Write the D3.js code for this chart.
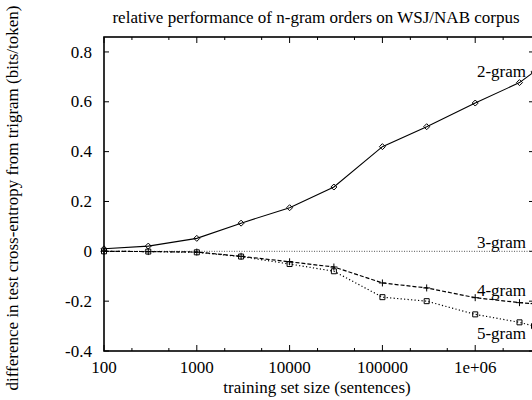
<!DOCTYPE html>
<html>
<head>
<meta charset="utf-8">
<script src="https://cdn.jsdelivr.net/npm/d3@7"></script>
<style>
  body { margin: 0; background: #fff; }
</style>
</head>
<body>
<div id="chart"></div>
<script>
// training set sizes (sentences)
const sizes = [100, 300, 1000, 3000, 10000, 30000, 100000, 300000, 1000000, 3000000, 4300000]

// difference in cross-entropy from trigram (bits/token)
const bigram = [0.01, 0.021, 0.052, 0.113, 0.175, 0.258, 0.42, 0.5, 0.595, 0.677, 0.72]
const trigram = [0, 0, 0, 0, 0, 0, 0, 0, 0, 0, 0]
const fourgram = [0, -0.001, -0.003, -0.02, -0.042, -0.063, -0.127, -0.147, -0.186, -0.206, -0.21]
const fivegram = [0, -0.001, -0.004, -0.021, -0.051, -0.08, -0.184, -0.2, -0.253, -0.285, -0.3]

const seriesNames = ['2-gram', '3-gram', '4-gram', '5-gram']

const xTicks = [100, 1000, 10000, 100000, 1000000]
const xTickLabels = ['100', '1000', '10000', '100000', '1e+06']
const yTicks = [-0.4, -0.2, 0, 0.2, 0.4, 0.6, 0.8]
const yTickLabels = ['-0.4', '-0.2', '0', '0.2', '0.4', '0.6', '0.8']

const margin = { top: 37, right: -2, bottom: 49, left: 104 }
const W = 532
const H = 400
const width = W - margin.left - margin.right
const height = H - margin.top - margin.bottom

const font = 'Liberation Serif'
const fs = 17

const svg = d3.select('#chart')
  .append('svg')
  .attr('width', W)
  .attr('height', H)

const g = svg.append('g')
  .attr('transform', `translate(${margin.left},${margin.top})`)

const x = d3.scaleLog()
  .domain([100, 4300000])
  .range([0, width])

const y = d3.scaleLinear()
  .domain([-0.4, 0.86])
  .range([height, 0])

// minor ticks at 2x and 5x each decade
const minorTicks = []
for (let e = 2; e <= 6; e++) {
  [2, 5].forEach(m => {
    const v = m * Math.pow(10, e)
    if (v < 4300000) minorTicks.push(v)
  })
}

// x axis ticks, bottom and top
const tickG = g.append('g').attr('stroke', '#000').attr('stroke-width', 1)
xTicks.forEach(t => {
  tickG.append('line').attr('x1', x(t)).attr('x2', x(t)).attr('y1', height).attr('y2', height - 6)
  tickG.append('line').attr('x1', x(t)).attr('x2', x(t)).attr('y1', 0).attr('y2', 6)
})
minorTicks.forEach(t => {
  tickG.append('line').attr('x1', x(t)).attr('x2', x(t)).attr('y1', height).attr('y2', height - 3)
  tickG.append('line').attr('x1', x(t)).attr('x2', x(t)).attr('y1', 0).attr('y2', 3)
})
yTicks.forEach(t => {
  tickG.append('line').attr('x1', 0).attr('x2', 5).attr('y1', y(t)).attr('y2', y(t))
  tickG.append('line').attr('x1', width).attr('x2', width - 5).attr('y1', y(t)).attr('y2', y(t))
})

g.append('g')
  .selectAll('text')
  .data(xTicks)
  .enter()
  .append('text')
  .attr('x', d => x(d))
  .attr('y', height + 22)
  .attr('text-anchor', 'middle')
  .attr('font-family', font)
  .attr('font-size', fs)
  .text((d, i) => xTickLabels[i])

g.append('g')
  .selectAll('text')
  .data(yTicks)
  .enter()
  .append('text')
  .attr('x', -12)
  .attr('y', d => y(d))
  .attr('dy', '0.33em')
  .attr('text-anchor', 'end')
  .attr('font-family', font)
  .attr('font-size', fs)
  .text((d, i) => yTickLabels[i])

// series
const lineFor = vals => d3.line()
  .x((d, i) => x(sizes[i]))
  .y(d => y(d))(vals)

const plot = g.append('g')

plot.append('path')
  .attr('d', lineFor(trigram))
  .attr('fill', 'none')
  .attr('stroke', '#555')
  .attr('stroke-width', 1)
  .attr('stroke-dasharray', '1,1.5')

plot.append('path')
  .attr('d', lineFor(fivegram))
  .attr('fill', 'none')
  .attr('stroke', '#000')
  .attr('stroke-width', 1.2)
  .attr('stroke-dasharray', '1.2,2.3')

plot.append('path')
  .attr('d', lineFor(fourgram))
  .attr('fill', 'none')
  .attr('stroke', '#000')
  .attr('stroke-width', 1.2)
  .attr('stroke-dasharray', '4,2')

plot.append('path')
  .attr('d', lineFor(bigram))
  .attr('fill', 'none')
  .attr('stroke', '#000')
  .attr('stroke-width', 1.1)

const diamond = 'M0,-3L3,0L0,3L-3,0Z'
const square = 'M-2.5,-2.5H2.5V2.5H-2.5Z'
const plus = 'M-3.5,0H3.5M0,-3.5V3.5'

const markers = (vals, shape) => plot.append('g')
  .selectAll('path')
  .data(vals)
  .enter()
  .append('path')
  .attr('transform', (d, i) => `translate(${x(sizes[i])},${y(d)})`)
  .attr('d', shape)
  .attr('fill', 'none')
  .attr('stroke', '#000')
  .attr('stroke-width', 1)

markers(bigram, diamond)
markers(fourgram, plus)
markers(fivegram, square)

// frame
g.append('rect')
  .attr('x', 0)
  .attr('y', 0)
  .attr('width', width)
  .attr('height', height)
  .attr('fill', 'none')
  .attr('stroke', '#000')
  .attr('stroke-width', 1.6)

// series labels
const labelY = [77, 248, 296, 339]
g.append('g')
  .selectAll('text')
  .data(seriesNames)
  .enter()
  .append('text')
  .attr('x', 526 - margin.left)
  .attr('y', (d, i) => labelY[i] - margin.top)
  .attr('text-anchor', 'end')
  .attr('font-family', font)
  .attr('font-size', fs)
  .text(d => d)

// title and axis titles
svg.append('text')
  .attr('x', 316)
  .attr('y', 23)
  .attr('text-anchor', 'middle')
  .attr('font-family', font)
  .attr('font-size', fs)
  .text('relative performance of n-gram orders on WSJ/NAB corpus')

svg.append('text')
  .attr('x', 317)
  .attr('y', 393)
  .attr('text-anchor', 'middle')
  .attr('font-family', font)
  .attr('font-size', fs)
  .text('training set size (sentences)')

svg.append('text')
  .attr('transform', 'translate(18,198) rotate(-90)')
  .attr('text-anchor', 'middle')
  .attr('font-family', font)
  .attr('font-size', fs)
  .text('difference in test cross-entropy from trigram (bits/token)')
</script>
</body>
</html>
